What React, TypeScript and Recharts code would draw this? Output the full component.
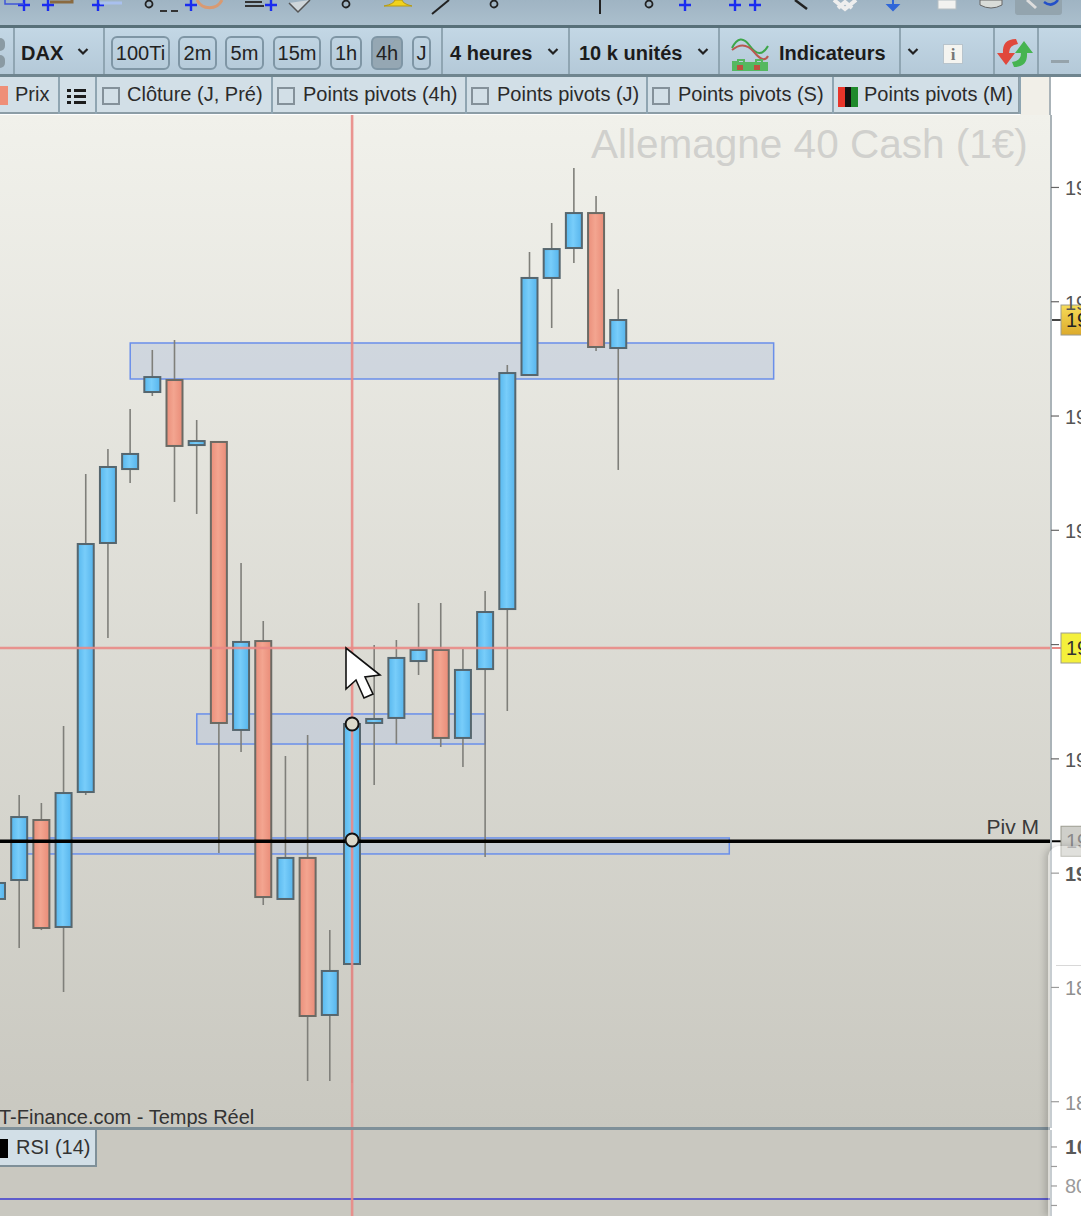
import { ComposedChart, Bar, XAxis, YAxis, ReferenceArea, ReferenceLine, ReferenceDot } from 'recharts';

// one entry per 4h slot
const opens = [18977.4, 18994, 19046.5, 18952.9, 19071, 19288.9, 19353.6, 19421, 19431.5, 19374.6, 19377.3, 19125.3, 19203.1, 18977.4, 19013.3, 18875.9, 18920.5, 19131.4, 19135.8, 19185.6, 19195.3, 19118.3, 19178.6, 19231.1, 19435.9, 19520.8, 19547, 19577.6, 19459.5];
const closes = [18991.4, 19049.1, 18952, 19070.1, 19288, 19355.4, 19366.8, 19434.1, 19373.8, 19378.1, 19131.4, 19202.3, 18979.1, 19013.3, 18875, 18914.4, 19130.5, 19134.9, 19188.3, 19195.3, 19118.3, 19177.8, 19228.5, 19437.6, 19520.8, 19546.1, 19577.6, 19460.4, 19484];
const highs = [19002.8, 19068.4, 19061.4, 19128.7, 19349.2, 19371.1, 19406.1, 19457.8, 19466.5, 19396.5, 19377.3, 19271.4, 19220.6, 19102.5, 19120.9, 18950.2, 19130.5, 19199.6, 19204, 19236.4, 19236.4, 19196.1, 19246.9, 19444.6, 19543.5, 19568.9, 19617, 19592.5, 19511.1];
const lows = [18972.1, 18934.5, 18950.2, 18896, 19068.4, 19205.7, 19341.4, 19417.5, 19324.8, 19314.3, 19017.6, 19106, 18972.1, 18977.4, 18818.1, 18818.1, 18816.4, 19077.1, 19113, 19173.4, 19110.4, 19092.9, 19014.1, 19141.9, 19435.9, 19477, 19533.9, 19456.9, 19352.8];
const slotCount = 48;

const priceTicks = [19600, 19500, 19400, 19300, 19200, 19100, 19000, 18900, 18800];
const rsiTicks = [100, 90, 80, 70];
const zones = [
  { from: 6, to: 35, top: 19463.9, bottom: 19432.4 },
  { from: 9, to: 22, top: 19139.3, bottom: 19113 },
  { from: 1, to: 33, top: 19030.8, bottom: 19016.8 },
];
const crossSlot = 16;
const crossPrice = 19197;
const lastPrice = 19484;
const pivotM = 19027.9;
const handlePrices = [19130.5, 19029];
const rsiLevel = 73.3;

const rows = Array.from({ length: slotCount }, (_, i) => ({
  slot: i,
  open: opens[i],
  close: closes[i],
  range: i < opens.length ? [lows[i], highs[i]] : null,
}));

const FONT = '"Liberation Sans", Arial, sans-serif';
const SLOT_W = 1065 / slotCount;
const CROSS = '#e98a86';

function Candle(props: any) {
  const { x, y, width, height, payload } = props;
  if (!payload.range) return null;
  const [low, high] = payload.range;
  const k = height / (high - low);
  const up = payload.close >= payload.open;
  const top = y + (high - Math.max(payload.open, payload.close)) * k;
  const h = Math.abs(payload.close - payload.open) * k;
  const mid = x + width / 2;
  return (
    <g>
      <line x1={mid} x2={mid} y1={y} y2={y + height} stroke="#7f7f7a" strokeWidth={1.6} />
      <rect x={x} y={top} width={width} height={h} fill={up ? 'url(#upFill)' : 'url(#downFill)'} stroke={up ? '#56666e' : '#6b6a64'} strokeWidth={2} />
    </g>
  );
}

function Zone(props: any) {
  const { x, y, width, height } = props;
  return <rect x={x + SLOT_W / 2} y={y} width={width - SLOT_W} height={height} fill="#bcc8dc" fillOpacity={0.55} stroke="#6a8fea" strokeWidth={1.5} />;
}

function Tag(props: any) {
  const { viewBox, fill, color, note, dash } = props;
  const right = viewBox.x + viewBox.width;
  const cy = viewBox.y;
  return (
    <g>
      {note && <text x={right - 12} y={cy - 7} textAnchor="end" fontSize={21} fill="#3a3a3a" fontFamily={FONT}>{note}</text>}
      <line x1={right} x2={right + 10} y1={cy} y2={cy} stroke={dash} strokeWidth={2} />
      <rect x={right + 10} y={cy - 15} width={30} height={30} fill={fill} stroke="#9c9c90" />
      <text x={right + 15} y={cy + 7} fontSize={20} fill={color} fontFamily={FONT}>19</text>
    </g>
  );
}

function PriceTick(props: any) {
  const { x, y, payload } = props;
  const v = payload.value;
  const strong = v === 19000;
  const fill = v < 19000 ? '#555' : strong ? '#000' : '#555';
  return (
    <g>
      <line x1={x - 8} x2={x} y1={y} y2={y} stroke="#666" strokeWidth={1.2} />
      {/* the crosshair tag sits right on top of this one */}
      {v !== 19200 && (
        <text x={x + 6} y={y + 8} fontSize={20} fontWeight={strong ? 700 : 400} fill={fill} fontFamily={FONT}>{String(v).slice(0, 2)}</text>
      )}
    </g>
  );
}

function RsiTick(props: any) {
  const { x, y, payload } = props;
  const v = payload.value;
  const label = v === 100 ? '10' : v === 80 ? '80' : '';
  return (
    <g>
      <line x1={x - 8} x2={x - 2} y1={y} y2={y} stroke="#666" strokeWidth={1.2} />
      {label && <text x={x + 6} y={y + 7} fontSize={v === 100 ? 21 : 20} fontWeight={v === 100 ? 700 : 400} fill={v === 100 ? '#000' : '#666'} fontFamily={FONT}>{label}</text>}
    </g>
  );
}

function ChartDefs() {
  return (
    <defs>
      <linearGradient id="upFill" x1="0" x2="1" y1="0" y2="0">
        <stop offset="0" stopColor="#58b8ee" />
        <stop offset="0.45" stopColor="#78cdfa" />
        <stop offset="1" stopColor="#56b4ec" />
      </linearGradient>
      <linearGradient id="downFill" x1="0" x2="1" y1="0" y2="0">
        <stop offset="0" stopColor="#ea8f7b" />
        <stop offset="0.45" stopColor="#f3a590" />
        <stop offset="1" stopColor="#e98c78" />
      </linearGradient>
      <linearGradient id="lastFill" x1="0" x2="0" y1="0" y2="1">
        <stop offset="0" stopColor="#f6dc58" />
        <stop offset="1" stopColor="#dcaa2c" />
      </linearGradient>
    </defs>
  );
}

function PriceChart() {
  return (
    <ComposedChart width={1096} height={1128} data={rows} margin={{ top: 115, right: 0, bottom: 0, left: 0 }}>
      <ChartDefs />
      <XAxis dataKey="slot" hide />
      <YAxis orientation="right" width={31} domain={[18777, 19663.4]} ticks={priceTicks} tick={<PriceTick />} tickLine={false} axisLine={{ stroke: '#aab3b8', strokeWidth: 2 }} interval={0} allowDataOverflow />
      {zones.map((z, i) => (
        <ReferenceArea key={i} x1={z.from} x2={z.to} y1={z.bottom} y2={z.top} shape={<Zone />} />
      ))}
      <Bar dataKey="range" barSize={16} shape={<Candle />} isAnimationActive={false} />
      <ReferenceLine x={crossSlot} stroke={CROSS} strokeWidth={2.6} strokeOpacity={0.9} />
      <ReferenceLine y={crossPrice} stroke={CROSS} strokeWidth={2.6} strokeOpacity={0.9} label={<Tag fill="#f4f03c" color="#333" dash={CROSS} />} />
      <ReferenceLine y={lastPrice} stroke="none" label={<Tag fill="url(#lastFill)" color="#222" dash="#444" />} />
      <ReferenceLine y={pivotM} stroke="#000" strokeWidth={3.5} label={<Tag fill="#cfcfca" color="#8a8a8a" note="Piv M" dash="#000" />} />
      {handlePrices.map((p, i) => (
        <ReferenceDot key={i} x={crossSlot} y={p} r={6.5} fill="#dcdacb" stroke="#111" strokeWidth={2} />
      ))}
    </ComposedChart>
  );
}

function RsiChart() {
  return (
    <ComposedChart width={1096} height={86} data={rows} margin={{ top: 0, right: 0, bottom: 0, left: 0 }}>
      <XAxis dataKey="slot" hide />
      <YAxis orientation="right" width={31} domain={[64.6, 108.7]} ticks={rsiTicks} tick={<RsiTick />} tickLine={false} axisLine={{ stroke: '#aab3b8', strokeWidth: 2 }} interval={0} allowDataOverflow />
      {/* no visible series here, the chart only draws its axes with one present */}
      <Bar dataKey="range" shape={() => null} isAnimationActive={false} />
      <ReferenceLine y={rsiLevel} stroke="#3a3ad0" strokeWidth={1.4} />
      <ReferenceLine x={crossSlot} stroke={CROSS} strokeWidth={2.6} strokeOpacity={0.9} />
    </ComposedChart>
  );
}

const abs = (left: number, top: number, extra: any = {}) => ({ position: 'absolute' as const, left, top, ...extra });

function Sep({ x, top = 28, h = 46 }: { x: number; top?: number; h?: number }) {
  return <div style={abs(x, top, { width: 1.5, height: h, background: '#8fa5b2' })} />;
}

function Chevron({ x }: { x: number }) {
  return (
    <svg style={abs(x, 47)} width={12} height={9}>
      <path d="M1.5 2 L6 6.5 L10.5 2" fill="none" stroke="#222" strokeWidth={2.2} />
    </svg>
  );
}

const timeButtons = [
  { label: '100Ti', x: 111, w: 59 },
  { label: '2m', x: 178, w: 39 },
  { label: '5m', x: 225, w: 39 },
  { label: '15m', x: 273, w: 48 },
  { label: '1h', x: 330, w: 32 },
  { label: '4h', x: 371, w: 32, on: true },
  { label: 'J', x: 412, w: 19 },
];

const tabSeps = [58, 95, 271, 465, 646, 832, 1019];
const tabs = [
  { label: 'Prix', x: 15 },
  { label: 'Clôture (J, Pré)', x: 127, box: 102 },
  { label: 'Points pivots (4h)', x: 303, box: 277 },
  { label: 'Points pivots (J)', x: 497, box: 471 },
  { label: 'Points pivots (S)', x: 678, box: 652 },
  { label: 'Points pivots (M)', x: 864 },
];

function TopIcons() {
  const cross = (x: number, y = 5, c = '#1a2cf0') => <path key={`${x}-${y}`} d={`M${x - 6} ${y} H${x + 6} M${x} ${y - 6} V${y + 6}`} stroke={c} strokeWidth={2.4} fill="none" />;
  const ring = (x: number) => <circle key={x} cx={x} cy={4} r={3.5} fill="none" stroke="#222" strokeWidth={1.8} />;
  return (
    <svg style={abs(0, 0)} width={1081} height={25}>
      {[24, 48, 98, 191, 271, 685].map((x) => cross(x))}
      {cross(735, 5)}{cross(755, 5)}
      {[149, 346, 494, 649].map(ring)}
      <path d="M5 0 V4 H24" stroke="#3f55d8" fill="none" strokeWidth={1.5} />
      <path d="M50 2 H72 V0" stroke="#8a6a40" fill="none" strokeWidth={3} />
      <path d="M100 3 H122" stroke="#a9c0ee" strokeWidth={3} />
      <path d="M160 11 H167 M171 11 H178" stroke="#333" strokeWidth={2} />
      <path d="M197 0 A14 14 0 0 0 222 0" stroke="#d89a72" strokeWidth={3} fill="none" />
      <path d="M245 2 H262 M245 6 H264" stroke="#333" strokeWidth={2} />
      <path d="M289 3 L298 12 L310 0" stroke="#555" fill="#cfd6da" strokeWidth={1.5} />
      <path d="M384 6 Q394 4 395 0 H402 Q403 4 412 6 Z" fill="#f2d21c" stroke="#b79a10" />
      <path d="M432 14 L449 0" stroke="#222" strokeWidth={2} />
      <path d="M600 0 V14" stroke="#222" strokeWidth={2} />
      <path d="M795 0 L807 9" stroke="#222" strokeWidth={2.5} />
      <path d="M834 0 L845 9 L856 0 M838 8 L845 2 L852 8" stroke="#eee" strokeWidth={4} fill="none" />
      <path d="M893 0 V6 M888 5 L893 10 L898 5 Z" stroke="#2f66d8" strokeWidth={2} fill="#2f66d8" />
      <rect x={938} y={0} width={18} height={9} fill="#f2f2f0" stroke="#b6bfc4" />
      <path d="M980 0 H1002 V5 Q991 11 980 5 Z" fill="#d9dcd8" stroke="#666" />
      <rect x={1015} y={-4} width={47} height={19} rx={3} fill="#93a4ae" />
      <path d="M1027 0 L1036 8" stroke="#ddd" strokeWidth={3} />
      <path d="M1044 2 Q1052 8 1058 0" stroke="#2450c8" strokeWidth={2.5} fill="none" />
    </svg>
  );
}

function Toolbar() {
  const bold = { fontWeight: 700, fontSize: 20, color: '#1c1c1c', lineHeight: '24px' };
  return (
    <>
      <div style={abs(0, 0, { width: 1081, height: 25, background: 'linear-gradient(#9fb4c3, #abbfcd)' })} />
      <TopIcons />
      <div style={abs(0, 25, { width: 1081, height: 3.5, background: '#587079' })} />
      <div style={abs(0, 28, { width: 1081, height: 46, background: 'linear-gradient(#c3d7e5, #b4c9d8)' })} />
      <div style={abs(0, 74, { width: 1081, height: 3, background: '#6f858f' })} />
      <div style={abs(-6, 38, { width: 11, height: 13, borderRadius: 5, background: '#8a9aa3' })} />
      <div style={abs(-6, 55, { width: 11, height: 13, borderRadius: 5, background: '#8a9aa3' })} />
      {[13, 103, 441, 568, 718, 899, 993, 1037].map((x) => <Sep key={x} x={x} />)}
      <div style={abs(21, 41, bold)}>DAX</div>
      <Chevron x={77} />
      {timeButtons.map((b) => (
        <div key={b.label} style={abs(b.x, 36, { width: b.w, height: 34, boxSizing: 'border-box', border: '2px solid #7f96a5', borderRadius: 6, background: b.on ? '#95a7b3' : 'transparent', textAlign: 'center', fontSize: 20, lineHeight: '31px', color: '#222' })}>{b.label}</div>
      ))}
      <div style={abs(450, 41, bold)}>4 heures</div>
      <Chevron x={547} />
      <div style={abs(579, 41, bold)}>10 k unités</div>
      <Chevron x={697} />
      <svg style={abs(730, 34)} width={40} height={40}>
        <path d="M2 14 Q10 -2 20 12 T38 12" fill="none" stroke="#3da64a" strokeWidth={2} />
        <path d="M2 16 Q14 6 24 18 T38 22" fill="none" stroke="#b85a50" strokeWidth={2} />
        <rect x={2} y={28} width={36} height={9} fill="#55b860" />
        <path d="M2 28 H8 V26 H14 V28 M26 28 V26 H32 V28" stroke="#55b860" fill="none" strokeWidth={2} />
        <rect x={7} y={31} width={6} height={5} fill="#c05040" />
        <rect x={24} y={31} width={6} height={5} fill="#c05040" />
      </svg>
      <div style={abs(779, 41, bold)}>Indicateurs</div>
      <Chevron x={907} />
      <div style={abs(943, 44, { width: 20, height: 20, background: '#f4f4f0', border: '1px solid #b8c4cc', textAlign: 'center', fontFamily: 'Liberation Serif', fontWeight: 700, fontSize: 17, lineHeight: '20px', color: '#777', boxSizing: 'border-box' })}>i</div>
      <svg style={abs(996, 36)} width={38} height={34}>
        <path d="M20 3 Q6 3 7 17 L1 17 L10 29 L19 17 L13 17 Q13 9 22 8 Z" fill="#e0483c" />
        <path d="M18 31 Q32 31 31 17 L37 17 L28 5 L19 17 L25 17 Q25 25 16 26 Z" fill="#46b450" />
      </svg>
      <div style={abs(1051, 60, { width: 18, height: 3, background: '#95a3ab' })} />

      <div style={abs(0, 77, { width: 1020, height: 37, background: '#d2dfe7', borderBottom: '2px solid #8c9da6', borderRight: '2px solid #8c9da6', boxSizing: 'border-box' })} />
      <div style={abs(1020, 77, { width: 31, height: 38, background: '#f1efe8', borderRight: '2px solid #aab3b8', boxSizing: 'border-box' })} />
      {tabSeps.map((x) => <Sep key={x} x={x} top={77} h={37} />)}
      <div style={abs(0, 86, { width: 8, height: 19, background: '#ef8f78' })} />
      {tabs.map((t) => (
        <div key={t.label}>
          {t.box !== undefined && <div style={abs(t.box, 87, { width: 18, height: 18, border: '2px solid #84919a', boxSizing: 'border-box' })} />}
          <div style={abs(t.x, 82, { fontSize: 20, lineHeight: '24px', color: '#2b2b2b', whiteSpace: 'nowrap' })}>{t.label}</div>
        </div>
      ))}
      <svg style={abs(67, 88)} width={20} height={17}>
        <path d="M0 2.5 H4 M7 2.5 H19 M0 8.5 H4 M7 8.5 H19 M0 14.5 H4 M7 14.5 H19" stroke="#1c1c1c" strokeWidth={3} />
      </svg>
      <div style={abs(838, 87, { width: 20, height: 20, background: 'linear-gradient(90deg, #e8352a 0 35%, #111 35% 65%, #1f8a2c 65%)' })} />
    </>
  );
}

export default function App() {
  return (
    <div style={{ position: 'fixed', left: 0, top: 0, width: 1081, height: 1216, overflow: 'hidden', background: '#fff', fontFamily: FONT }}>
      <div style={abs(0, 115, { width: 1050, height: 1013, background: 'linear-gradient(#f1f1eb, #c9c8c0)' })} />
      <div style={abs(0, 1128, { width: 1050, height: 88, background: '#c9c8c0' })} />
      <div style={abs(591, 120, { fontSize: 40.5, lineHeight: '48px', color: '#d0d0cd', whiteSpace: 'nowrap' })}>Allemagne 40 Cash (1€)</div>
      <div style={abs(-1, 1105, { fontSize: 20, lineHeight: '24px', color: '#333', whiteSpace: 'nowrap' })}>T-Finance.com - Temps Réel</div>
      <div style={abs(-14.5, 0)}><PriceChart /></div>
      <div style={abs(-14.5, 1130)}><RsiChart /></div>
      <div style={abs(0, 1127, { width: 1050, height: 3, background: '#7f9099' })} />
      <div style={abs(0, 1130, { width: 97, height: 37, background: '#d2dfe7', borderRight: '2.5px solid #7f9099', borderBottom: '2.5px solid #7f9099', boxSizing: 'border-box' })} />
      <div style={abs(0, 1139, { width: 8, height: 19, background: '#000' })} />
      <div style={abs(16, 1135, { fontSize: 20, lineHeight: '24px', color: '#333' })}>RSI (14)</div>
      <svg style={abs(343, 645)} width={42} height={60}>
        <path d="M3 3 V44 L13 35 L21 53 L30 49 L22 32 L37 30 Z" fill="#fff" stroke="#111" strokeWidth={1.6} />
      </svg>
      <Toolbar />
      <div style={abs(1048, 846, { width: 40, height: 370, background: 'rgba(255,255,255,0.35)', borderTopLeftRadius: 12, boxShadow: '-3px 0 7px rgba(0,0,0,0.18)' })} />
      <div style={abs(1056, 965, { width: 25, height: 1, background: '#d8d8d8' })} />
    </div>
  );
}
